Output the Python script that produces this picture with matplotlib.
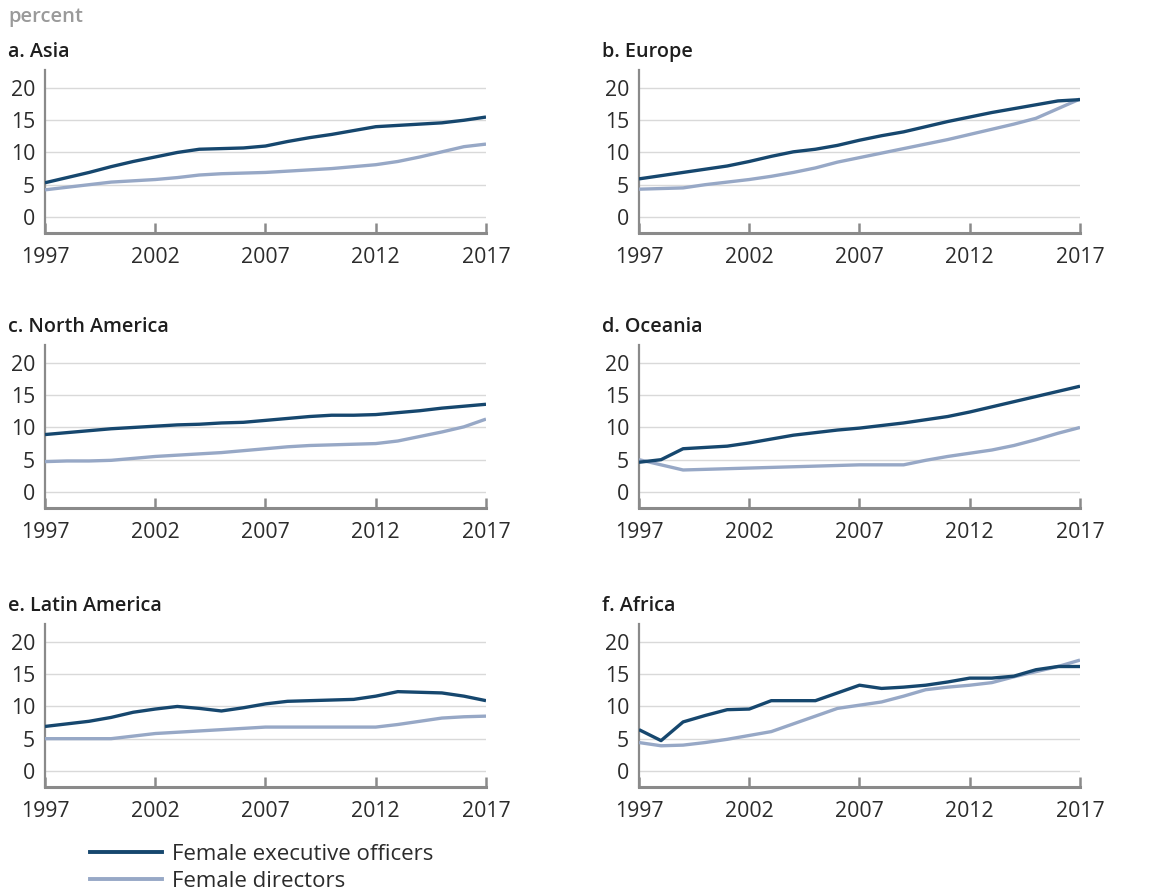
import matplotlib
matplotlib.use("Agg")
import matplotlib.pyplot as plt
from matplotlib.lines import Line2D

plt.rcParams['font.family'] = ['Open Sans', 'DejaVu Sans']

years = list(range(1997, 2018))

titles = ["a. Asia", "b. Europe", "c. North America",
          "d. Oceania", "e. Latin America", "f. Africa"]

# share of women, percent
asia_exec = [5.3, 6.1, 6.9, 7.8, 8.6, 9.3, 10.0, 10.5, 10.6, 10.7, 11.0,
             11.7, 12.3, 12.8, 13.4, 14.0, 14.2, 14.4, 14.6, 15.0, 15.5]
asia_dir = [4.2, 4.6, 5.0, 5.4, 5.6, 5.8, 6.1, 6.5, 6.7, 6.8, 6.9,
            7.1, 7.3, 7.5, 7.8, 8.1, 8.6, 9.3, 10.1, 10.9, 11.3]

europe_exec = [5.9, 6.4, 6.9, 7.4, 7.9, 8.6, 9.4, 10.1, 10.5, 11.1, 11.9,
               12.6, 13.2, 14.0, 14.8, 15.5, 16.2, 16.8, 17.4, 18.0, 18.2]
europe_dir = [4.3, 4.4, 4.5, 5.0, 5.4, 5.8, 6.3, 6.9, 7.6, 8.5, 9.2,
              9.9, 10.6, 11.3, 12.0, 12.8, 13.6, 14.4, 15.3, 16.8, 18.3]

namerica_exec = [8.9, 9.2, 9.5, 9.8, 10.0, 10.2, 10.4, 10.5, 10.7, 10.8, 11.1,
                 11.4, 11.7, 11.9, 11.9, 12.0, 12.3, 12.6, 13.0, 13.3, 13.6]
namerica_dir = [4.7, 4.8, 4.8, 4.9, 5.2, 5.5, 5.7, 5.9, 6.1, 6.4, 6.7,
                7.0, 7.2, 7.3, 7.4, 7.5, 7.9, 8.6, 9.3, 10.1, 11.3]

oceania_exec = [4.6, 5.0, 6.7, 6.9, 7.1, 7.6, 8.2, 8.8, 9.2, 9.6, 9.9,
                10.3, 10.7, 11.2, 11.7, 12.4, 13.2, 14.0, 14.8, 15.6, 16.4]
oceania_dir = [5.0, 4.2, 3.4, 3.5, 3.6, 3.7, 3.8, 3.9, 4.0, 4.1, 4.2,
               4.2, 4.2, 4.9, 5.5, 6.0, 6.5, 7.2, 8.1, 9.1, 10.0]

latam_exec = [6.9, 7.3, 7.7, 8.3, 9.1, 9.6, 10.0, 9.7, 9.3, 9.8, 10.4,
              10.8, 10.9, 11.0, 11.1, 11.6, 12.3, 12.2, 12.1, 11.6, 10.9]
latam_dir = [5.0, 5.0, 5.0, 5.0, 5.4, 5.8, 6.0, 6.2, 6.4, 6.6, 6.8,
             6.8, 6.8, 6.8, 6.8, 6.8, 7.2, 7.7, 8.2, 8.4, 8.5]

africa_exec = [6.4, 4.7, 7.6, 8.6, 9.5, 9.6, 10.9, 10.9, 10.9, 12.1, 13.3,
               12.8, 13.0, 13.3, 13.8, 14.4, 14.4, 14.7, 15.7, 16.2, 16.2]
africa_dir = [4.4, 3.9, 4.0, 4.4, 4.9, 5.5, 6.1, 7.3, 8.5, 9.7, 10.2,
              10.7, 11.6, 12.6, 13.0, 13.3, 13.7, 14.6, 15.4, 16.2, 17.2]

exec_series = [asia_exec, europe_exec, namerica_exec,
               oceania_exec, latam_exec, africa_exec]
dir_series = [asia_dir, europe_dir, namerica_dir,
              oceania_dir, latam_dir, africa_dir]

dark = "#16476e"
light = "#97a8c6"
axis_gray = "#8a8a8a"
text_col = "#2b2b2b"

W, H = 1160, 891
fig = plt.figure(figsize=(W / 100, H / 100), dpi=100)

lefts = [45, 639]
tops = [70, 345, 624]
ax_w, ax_h = 441, 163

for i, name in enumerate(titles):
    r, c = divmod(i, 2)
    x0, y0 = lefts[c], tops[r]
    ax = fig.add_axes([x0 / W, 1 - (y0 + ax_h) / H, ax_w / W, ax_h / H])

    for v in [0, 5, 10, 15, 20]:
        ax.axhline(v, color="#d9d9d9", lw=1, zorder=1)

    ax.plot(years, dir_series[i], color=light, lw=2.4, zorder=3,
            solid_capstyle="butt")
    ax.plot(years, exec_series[i], color=dark, lw=2.4, zorder=4,
            solid_capstyle="butt")

    ax.set_xlim(1997, 2017)
    ax.set_ylim(-2.5, 22.8)
    ax.set_xticks([1997, 2002, 2007, 2012, 2017])
    ax.set_yticks([0, 5, 10, 15, 20])

    for s in ["top", "right"]:
        ax.spines[s].set_visible(False)
    ax.spines["left"].set_color(axis_gray)
    ax.spines["left"].set_linewidth(1.6)
    ax.spines["bottom"].set_color(axis_gray)
    ax.spines["bottom"].set_linewidth(2.2)

    ax.tick_params(axis="x", direction="in", length=7, width=1.8,
                   color=axis_gray, pad=10, labelsize=15.3, labelcolor=text_col)
    ax.tick_params(axis="y", length=0, pad=7, labelsize=15.3,
                   labelcolor=text_col)

    fig.text((x0 - 37) / W, 1 - (y0 - 13) / H, name, fontsize=14.2,
             fontweight="semibold", color="#1e1e1e", ha="left", va="baseline")

fig.text(8 / W, 1 - 22 / H, "percent", fontsize=14.5, fontweight="semibold",
         color="#9a9a9a", ha="left", va="baseline")

handles = [Line2D([], [], color=dark, lw=2.8),
           Line2D([], [], color=light, lw=2.8)]
fig.legend(handles, ["Female executive officers", "Female directors"],
           loc="upper left", bbox_to_anchor=(90 / W, 1 - 844 / H),
           frameon=False, borderpad=0, borderaxespad=0,
           handlelength=3.25, handletextpad=0.45, labelspacing=0.26,
           prop={"size": 16}, labelcolor=text_col)

fig.savefig("out.png", dpi=100)
